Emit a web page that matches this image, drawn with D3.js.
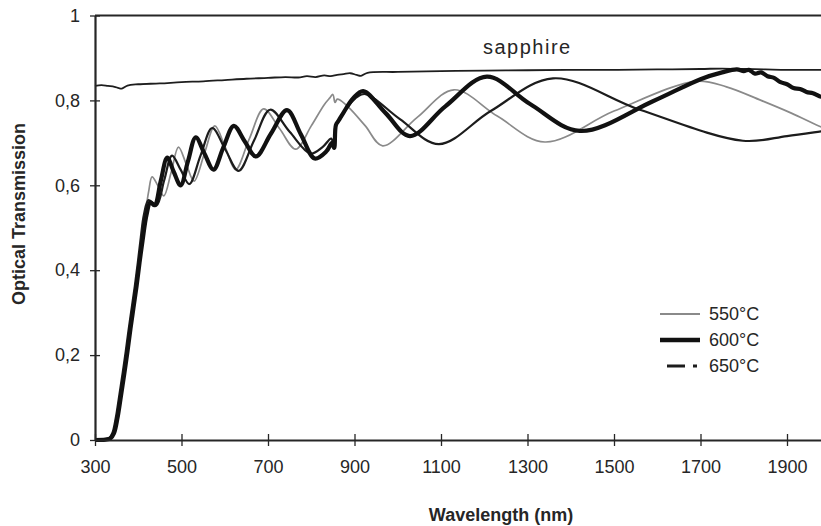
<!DOCTYPE html>
<html>
<head>
<meta charset="utf-8">
<script src="https://cdn.jsdelivr.net/npm/d3@7"></script>
<style>
  html, body { margin: 0; padding: 0; background: #fff; }
  svg { display: block; font-family: "Liberation Sans", Arial, sans-serif; }
</style>
</head>
<body>
<svg id="chart" width="821" height="526"></svg>
<script>
// ---- data (wavelength nm, optical transmission) ----
const wavelengthTicks = [300, 500, 700, 900, 1100, 1300, 1500, 1700, 1900];
const transmissionTicks = [0, 0.2, 0.4, 0.6, 0.8, 1];
const transmissionTickLabels = ["0", "0,2", "0,4", "0,6", "0,8", "1"];
const seriesNames = ["550°C", "600°C", "650°C"];
const sapphireLabel = "sapphire";
const xTitle = "Wavelength (nm)";
const yTitle = "Optical Transmission";

const sapphire = [
  [300,0.834],[315,0.836],[330,0.834],[345,0.832],[355,0.829],[362,0.828],[375,0.835],[400,0.838],
  [450,0.840],[500,0.843],[550,0.845],[600,0.848],[650,0.851],[700,0.853],[740,0.855],[770,0.854],
  [790,0.857],[810,0.855],[830,0.859],[845,0.857],[860,0.860],[875,0.862],[890,0.864],[905,0.860],
  [915,0.858],[930,0.865],[1000,0.867],[1100,0.869],[1200,0.870],[1300,0.871],[1400,0.872],
  [1500,0.872],[1600,0.873],[1700,0.874],[1750,0.875],[1800,0.874],[1850,0.873],[1900,0.872],
  [1950,0.872],[2000,0.872]
];

const film550 = [
  [300,0.002],[320,0.002],[334,0.004],[342,0.015],[350,0.05],[358,0.10],[366,0.155],[373,0.205],
  [380,0.26],[387,0.31],[394,0.36],[401,0.415],[408,0.47],[416,0.53],[424,0.585],[432,0.62],
  [445,0.60],[459,0.575],[476,0.63],[493,0.69],[511,0.65],[529,0.61],[553,0.675],[577,0.74],
  [601,0.69],[625,0.637],[657,0.71],[690,0.78],[727,0.733],[764,0.685],[800,0.74],[830,0.79],
  [843,0.806],[850,0.814],[855,0.795],[860,0.803],[868,0.80],[890,0.78],[925,0.74],[965,0.693],
  [1045,0.76],[1130,0.825],[1230,0.763],[1340,0.702],[1500,0.775],[1690,0.845],[1760,0.832],
  [1840,0.80],[1910,0.77],[1980,0.737],[2000,0.73]
];

const film600 = [
  [300,0.0],[324,0.001],[336,0.004],[344,0.016],[352,0.052],[360,0.104],[368,0.158],[375,0.208],
  [382,0.262],[389,0.312],[396,0.362],[403,0.418],[410,0.47],[419,0.53],[428,0.56],[438,0.553],
  [452,0.61],[467,0.665],[482,0.632],[498,0.60],[515,0.657],[533,0.713],[553,0.675],[574,0.637],
  [597,0.69],[621,0.74],[646,0.704],[672,0.668],[707,0.722],[744,0.777],[776,0.72],[808,0.663],
  [835,0.68],[848,0.70],[853,0.688],[857,0.742],[863,0.752],[875,0.772],[897,0.805],[920,0.822],
  [972,0.77],[1028,0.716],[1110,0.786],[1206,0.856],[1305,0.792],[1421,0.728],[1590,0.798],
  [1700,0.85],[1750,0.866],[1784,0.873],[1800,0.869],[1812,0.872],[1826,0.863],[1840,0.866],
  [1855,0.857],[1870,0.853],[1885,0.843],[1900,0.838],[1915,0.829],[1930,0.827],[1945,0.82],
  [1960,0.817],[1975,0.81],[2000,0.804]
];

const film650 = [
  [300,0.0],[316,0.001],[332,0.004],[340,0.016],[348,0.052],[356,0.104],[364,0.158],[371,0.208],
  [378,0.262],[385,0.312],[392,0.362],[399,0.418],[406,0.478],[413,0.53],[424,0.565],[442,0.552],
  [460,0.612],[478,0.67],[498,0.637],[518,0.603],[544,0.67],[571,0.735],[601,0.685],[632,0.634],
  [668,0.706],[705,0.778],[750,0.726],[798,0.675],[826,0.69],[846,0.71],[852,0.697],[856,0.74],
  [862,0.748],[880,0.778],[902,0.805],[925,0.815],[1005,0.756],[1095,0.697],[1215,0.775],
  [1359,0.852],[1560,0.778],[1798,0.705],[1900,0.716],[1985,0.728],[2000,0.73]
];

// ---- chart ----
const svg = d3.select("#chart");
const x = d3.scaleLinear().domain([300, 2000]).range([95, 830.25]);
const y = d3.scaleLinear().domain([0, 1]).range([440, 15.5]);
const ink = "#262626";
const fontFam = "Liberation Sans, Arial, sans-serif";

const line = d3.line().x(d => x(d[0])).y(d => y(d[1])).curve(d3.curveCatmullRom.alpha(0.5));

const series = [
  { name: seriesNames[0], data: film550, stroke: "#8a8a8a", width: 1.7, legendDash: null },
  { name: seriesNames[2], data: film650, stroke: "#1c1c1c", width: 2.2, legendDash: "18,8,4,200" },
  { name: seriesNames[1], data: film600, stroke: "#111111", width: 4.2, legendDash: null }
];

// sapphire reference line
svg.append("path").datum(sapphire)
  .attr("d", line).attr("fill", "none")
  .attr("stroke", "#1e1e1e").attr("stroke-width", 1.8);

series.forEach(s => {
  svg.append("path").datum(s.data)
    .attr("d", line).attr("fill", "none")
    .attr("stroke", s.stroke).attr("stroke-width", s.width)
    .attr("stroke-linejoin", "round");
});

// axes
const xAxis = d3.axisBottom(x).tickValues(wavelengthTicks).tickFormat(d3.format("d"))
  .tickSizeInner(6).tickSizeOuter(0).tickPadding(14);
const gx = svg.append("g").attr("transform", `translate(0,${y(0)})`).call(xAxis);
gx.select(".domain").attr("stroke", ink).attr("stroke-width", 2.2);
gx.selectAll(".tick line").attr("y1", -6).attr("y2", 6).attr("stroke", ink).attr("stroke-width", 1.3);
gx.selectAll(".tick text").attr("fill", ink).attr("font-size", 18).attr("font-family", fontFam);

const yAxis = d3.axisLeft(y).tickValues(transmissionTicks)
  .tickFormat((d, i) => transmissionTickLabels[i]).tickSizeInner(5).tickSizeOuter(0).tickPadding(10);
const gy = svg.append("g").attr("transform", `translate(${x(300)},0)`).call(yAxis);
gy.select(".domain").attr("stroke", ink).attr("stroke-width", 2.2);
gy.selectAll(".tick line").attr("x1", -5).attr("x2", 5).attr("stroke", ink).attr("stroke-width", 1.3);
gy.selectAll(".tick text").attr("fill", ink).attr("font-size", 18).attr("font-family", fontFam);

// top frame line
svg.append("line")
  .attr("x1", x(300)).attr("x2", x(2000)).attr("y1", y(1)).attr("y2", y(1))
  .attr("stroke", ink).attr("stroke-width", 2.2);

// titles
svg.append("text").attr("x", 501).attr("y", 521).attr("text-anchor", "middle")
  .attr("font-size", 18).attr("font-weight", "bold").attr("fill", ink).text(xTitle);
svg.append("text").attr("transform", "translate(25,214) rotate(-90)").attr("text-anchor", "middle")
  .attr("font-size", 18).attr("font-weight", "bold").attr("fill", ink).text(yTitle);

// sapphire label
svg.append("text").attr("x", 483).attr("y", 54).attr("font-size", 20)
  .attr("letter-spacing", 1.5).attr("fill", ink).text(sapphireLabel);

// legend
const legendOrder = [series[0], series[2], series[1]];
const lg = svg.append("g");
legendOrder.forEach((s, i) => {
  const yy = 314 + i * 26;
  lg.append("line").attr("x1", i === 2 ? 667 : 660).attr("x2", 700)
    .attr("y1", yy).attr("y2", yy)
    .attr("stroke", s.stroke).attr("stroke-width", i === 2 ? 3 : (i === 1 ? 4.5 : 2))
    .attr("stroke-dasharray", s.legendDash);
  lg.append("text").attr("x", 709).attr("y", yy + 6).attr("font-size", 18)
    .attr("fill", ink).text(s.name);
});
</script>
</body>
</html>
